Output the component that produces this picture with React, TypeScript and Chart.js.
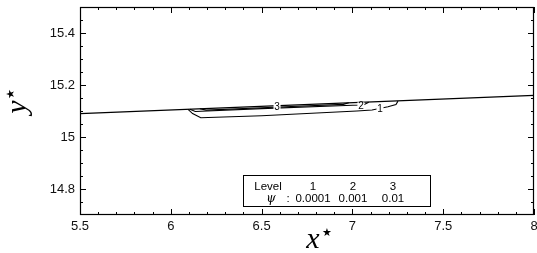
import React, { useEffect, useRef } from "react";
import { Chart, registerables } from "chart.js";
Chart.register(...registerables);

// ---- data ----
const xTicks = [5.5, 6, 6.5, 7, 7.5, 8];
const xTickLabels = ["5.5", "6", "6.5", "7", "7.5", "8"];
const yTicks = [14.8, 15, 15.2, 15.4];
const yTickLabels = ["14.8", "15", "15.2", "15.4"];
const xMinorTicks = [5.6, 5.7, 5.8, 5.9, 6.1, 6.2, 6.3, 6.4, 6.6, 6.7, 6.8, 6.9, 7.1, 7.2, 7.3, 7.4, 7.6, 7.7, 7.8, 7.9];
const yMinorTicks = [14.75, 14.85, 14.9, 14.95, 15.05, 15.1, 15.15, 15.25, 15.3, 15.35, 15.45];

const wallX = [5.5, 8];
const wallY = [15.09, 15.16];

const contour1X = [6.095, 6.12, 6.165, 6.5, 7.025, 7.108, 7.196, 7.24, 7.251];
const contour1Y = [15.106, 15.09, 15.074, 15.082, 15.1, 15.104, 15.116, 15.125, 15.138];

const contour2X = [6.105, 6.135, 6.5, 7.0, 7.06, 7.09];
const contour2Y = [15.107, 15.098, 15.109, 15.122, 15.123, 15.134];

const contour3X = [6.16, 6.195, 6.6, 6.95, 6.98];
const contour3Y = [15.1085, 15.1035, 15.1155, 15.1255, 15.1314];

const contourLabelText = ["1", "2", "3"];
const contourLabelX = [7.152, 7.047, 6.585];
const contourLabelY = [15.1085, 15.122, 15.1155];

const legendLevels = ["1", "2", "3"];
const legendValues = ["0.0001", "0.001", "0.01"];

const pts = (xs: number[], ys: number[]) => xs.map((x, i) => ({ x, y: ys[i] }));

const decorPlugin = {
  id: "decor",
  afterDatasetsDraw(chart: any) {
    const ctx = chart.ctx;
    const xs = chart.scales.x;
    const ys = chart.scales.y;
    const a = chart.chartArea;
    ctx.save();
    // contour labels
    ctx.font = '10px "Liberation Sans", Arial, sans-serif';
    ctx.textAlign = "center";
    ctx.textBaseline = "middle";
    contourLabelText.forEach((t, i) => {
      const px = xs.getPixelForValue(contourLabelX[i]);
      const py = ys.getPixelForValue(contourLabelY[i]);
      ctx.fillStyle = "#fff";
      ctx.fillRect(px - 3.5, py - 3, 7, 6);
      ctx.fillStyle = "#000";
      ctx.fillText(t, px, py + 0.5);
    });
    // frame
    ctx.strokeStyle = "#000";
    ctx.lineWidth = 1.2;
    ctx.strokeRect(a.left + 0.5, a.top + 0.5, a.right - a.left - 1, a.bottom - a.top - 1);
    // ticks
    ctx.lineWidth = 1;
    ctx.beginPath();
    const xt = (v: number, len: number) => {
      const p = Math.round(xs.getPixelForValue(v)) + 0.5;
      ctx.moveTo(p, a.bottom);
      ctx.lineTo(p, a.bottom - len);
      ctx.moveTo(p, a.top);
      ctx.lineTo(p, a.top + len);
    };
    const yt = (v: number, len: number) => {
      const p = Math.round(ys.getPixelForValue(v)) + 0.5;
      ctx.moveTo(a.left, p);
      ctx.lineTo(a.left + len, p);
      ctx.moveTo(a.right, p);
      ctx.lineTo(a.right - len, p);
    };
    xTicks.forEach((v) => xt(v, 6));
    xMinorTicks.forEach((v) => xt(v, 3));
    yTicks.forEach((v) => yt(v, 6));
    yMinorTicks.forEach((v) => yt(v, 3));
    ctx.stroke();

    // legend box
    const bx = 243.5, by = 175.5, bw = 187, bh = 31;
    ctx.fillStyle = "#fff";
    ctx.fillRect(bx, by, bw, bh);
    ctx.strokeRect(bx, by, bw, bh);
    ctx.fillStyle = "#000";
    ctx.font = '11.5px "Liberation Sans", Arial, sans-serif';
    ctx.textAlign = "center";
    ctx.textBaseline = "middle";
    const cols = [313, 353, 393];
    ctx.fillText("Level", 268, 187);
    legendLevels.forEach((t, i) => ctx.fillText(t, cols[i], 187));
    legendValues.forEach((t, i) => ctx.fillText(t, cols[i], 198.5));
    ctx.fillText(":", 288, 198.5);
    ctx.font = 'italic 12px "DejaVu Serif", serif';
    ctx.fillText("\u03c8", 271, 198.5);

    // axis titles
    ctx.font = 'italic 30px "Liberation Serif", serif';
    ctx.textAlign = "center";
    ctx.textBaseline = "alphabetic";
    ctx.fillText("x", 313, 248);
    ctx.font = '11px "DejaVu Sans", sans-serif';
    ctx.textBaseline = "middle";
    ctx.fillText("\u2605", 327, 233);

    ctx.save();
    ctx.translate(26, 107);
    ctx.rotate(-Math.PI / 2);
    ctx.font = 'italic 30px "Liberation Serif", serif';
    ctx.textBaseline = "alphabetic";
    ctx.fillText("y", 0, 0);
    ctx.font = '11px "DejaVu Sans", sans-serif';
    ctx.textBaseline = "middle";
    ctx.fillText("\u2605", 13, -15);
    ctx.restore();
    ctx.restore();
  },
};

export default function App() {
  const ref = useRef<HTMLCanvasElement | null>(null);
  useEffect(() => {
    if (!ref.current) return;
    const line = (data: any, w: number) => ({
      data,
      borderColor: "#000",
      borderWidth: w,
      pointRadius: 0,
      fill: false,
      tension: 0,
    });
    const chart = new Chart(ref.current, {
      type: "line",
      data: {
        datasets: [
          line(pts(wallX, wallY), 1.3),
          line(pts(contour1X, contour1Y), 1.1),
          line(pts(contour2X, contour2Y), 1.1),
          line(pts(contour3X, contour3Y), 1.1),
        ],
      },
      options: {
        animation: false,
        responsive: false,
        devicePixelRatio: 1,
        layout: { padding: { top: 7, right: 3, left: 0, bottom: 0 } },
        plugins: { legend: { display: false }, tooltip: { enabled: false } },
        scales: {
          x: {
            type: "linear",
            min: 5.5,
            max: 8,
            afterBuildTicks: (s: any) => {
              s.ticks = xTicks.map((v) => ({ value: v }));
            },
            afterFit: (s: any) => {
              s.height = 38;
              s.paddingLeft = 0;
              s.paddingRight = 0;
            },
            ticks: {
              autoSkip: false,
              maxRotation: 0,
              padding: 4,
              color: "#111",
              font: { family: '"Liberation Sans", Arial, sans-serif', size: 13 },
              callback: (v: any) => {
                const i = xTicks.findIndex((t) => Math.abs(t - v) < 1e-9);
                return i >= 0 ? xTickLabels[i] : "";
              },
            },
            grid: { display: false, drawTicks: false },
            border: { display: false },
          },
          y: {
            type: "linear",
            min: 14.7,
            max: 15.5,
            afterBuildTicks: (s: any) => {
              s.ticks = yTicks.map((v) => ({ value: v }));
            },
            afterFit: (s: any) => {
              s.width = 80;
              s.paddingTop = 0;
              s.paddingBottom = 0;
            },
            ticks: {
              autoSkip: false,
              padding: 5,
              color: "#111",
              font: { family: '"Liberation Sans", Arial, sans-serif', size: 13 },
              callback: (v: any) => {
                const i = yTicks.findIndex((t) => Math.abs(t - v) < 1e-9);
                return i >= 0 ? yTickLabels[i] : "";
              },
            },
            grid: { display: false, drawTicks: false },
            border: { display: false },
          },
        },
      },
      plugins: [decorPlugin],
    } as any);
    return () => chart.destroy();
  }, []);
  return (
    <div style={{ position: "absolute", left: 0, top: 0, width: 537, height: 253, background: "#fff" }}>
      <canvas ref={ref} width={537} height={253} style={{ display: "block" }} />
    </div>
  );
}
